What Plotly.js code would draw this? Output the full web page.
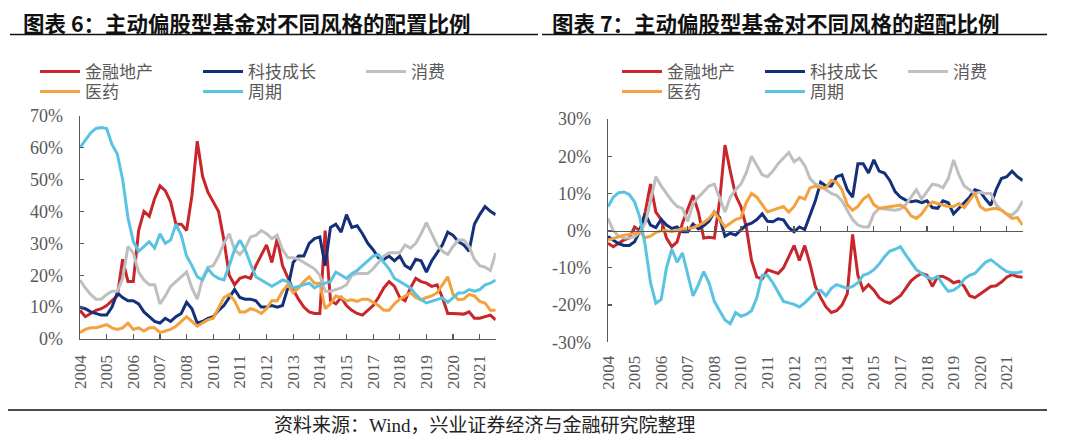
<!DOCTYPE html>
<html><head><meta charset="utf-8">
<script src="https://cdn.plot.ly/plotly-3.0.1.min.js"></script>
<style>html,body{margin:0;padding:0;background:#fff}#chart{width:1080px;height:442px}</style>
</head><body><div id="chart"></div>
<script>
// ---- data ----
const seriesNames = ['金融地产', '科技成长', '消费', '医药', '周期'];
const seriesColors = ['#C8262B', '#14307A', '#BFBFBF', '#F2A23E', '#5BC3E2'];
const tickIndex = [0, 5, 10, 15, 20, 25, 30, 35, 40, 45, 50, 55, 60, 65, 70, 75];
const tickLabels = ['2004','2005','2006','2007','2008','2010','2011','2012','2013','2014','2015','2017','2018','2019','2020','2021'];
const leftTickVals = [0, 10, 20, 30, 40, 50, 60, 70];
const leftTickText = ['0%','10%','20%','30%','40%','50%','60%','70%'];
const rightTickVals = [-30, -20, -10, 0, 10, 20, 30];
const rightTickText = ['-30%','-20%','-10%','0%','10%','20%','30%'];

// 配置比例 (%)
const allocFin = [9,7,8,9,9.5,10.5,12,13.5,25,18,18,34,40,38.5,44,48,46.5,43,36,36,34,45,62,51,46,43,40,31,20,17,19,19.6,19,23,26.5,29.5,24,31.5,23,19,15.5,12.5,10,8.5,8,8,34,12,11,13,10.5,9,8,7.5,9,10.5,13,16,18,16.5,13,12,16,19,18,17.5,16.5,17,13,8,8,8,7.8,8.5,6.5,6.5,7,7.5,6];
const allocTech = [10,9.5,8.5,8,7.5,7.5,10,14.5,13,12,12,11,8.5,7,5.5,5,6.5,5.5,7,8,11.5,9.5,5,5.5,6.5,7,9,10.5,13,15.5,13,12.5,12.5,12,10,10,10.5,10,10.5,16,24,26,26,30,31.5,32,23,35,36,33.5,39,35,35.5,33,30,28,25.5,25,26,24.5,26,23,22,25,24.5,21,24.5,27,29.5,33.5,32.5,30.5,29.5,27.5,36,39,41.5,40,39];
const allocCons = [18.5,16,14,12.5,12.5,14,15,15,19,29,27,21,18.5,17,17,11,13.5,16.5,18,19.5,21,16,12.5,19,22.5,23,26,30,33,28,26.5,28.5,32,32.5,34,33,31.5,32.5,28,25.5,25.5,25,24,23,22,20,15,15,15.5,16,17,20,20.5,20.5,20.5,22,24,26,27,27,27,29.5,28.5,30,33,36.5,33,29.5,27.5,26.5,29,31,31,29,25,23,22.5,21.5,27];
const allocPharma = [2,3,3.5,3.5,4,4.5,3.5,3,3.5,5,3,3.5,2.5,3.5,3.5,2,2.5,3,4,5.5,7,5.5,4,5,6,6.5,10,13,14,12,8.5,8.5,9.5,9,8,9.5,12,12,15,17,14.5,16,18,19.5,17.5,17.5,9.5,11,13.5,13,12,12.3,11.8,12.5,12.5,11.5,10.5,9,9,11,12.5,13.5,14.5,13,12.3,13,13.5,14.5,17,19.5,14,12.3,12.5,14,13.5,11.8,11.3,9,9];
const allocCyc = [60,62.5,64.6,66,66.3,66,61,58,50,38,30.6,27.5,29,30.5,28.5,33,30,31,36,32.5,26,23,19.5,18.5,22,20,19,18.5,23,28,31,28,23.5,19.5,18.5,17.5,16.5,17.5,18.5,18,16,16.5,17,17.5,16,17,17.5,18,21,20,19,20.5,21.5,23,24.5,26,26.5,24,22,19,18,17,16,14,12.3,11.3,11.8,12.3,12.9,11.5,13,14.4,14.5,15.5,15,15.5,17,17.5,18.5];

// 超配比例 (%)
const overFin = [-3.4,-4.3,-3.4,-2.5,-2,1,0,5,12.5,5,3,-2,-4.3,-3,2,6,9.5,5,-2,-1.8,-2,8,23,16,9.5,6.5,1,-8,-12.5,-13,-10.5,-11,-11.5,-10,-7,-4,-8,-4,-9,-15,-18,-20.5,-22,-21.5,-20,-17,-1,-12,-16,-14.5,-16,-18,-19,-19.5,-18.5,-17.5,-15.5,-13.5,-12.3,-11.5,-12,-15,-12.3,-12.3,-13,-14,-13.6,-15,-17.5,-18,-17,-16,-15,-14.8,-13.8,-12.5,-11.8,-12.3,-12.5];
const overTech = [-1.6,-2.5,-3.5,-4,-4,-3,0,4.5,1.5,0.8,3,1.5,0.6,1,-0.3,-0.3,1.8,0.5,1.3,2.5,5,3.5,-1.5,-0.7,-1.2,0.2,1.5,2,3,4.5,2.5,2.4,3.2,2.9,0.8,-0.3,1,0.3,4,8,13,12,12,14.5,15,11,9,18,18,15.5,19,16,15.5,13.5,10.5,9,8.2,7.8,8,7.5,8,6.2,6,8,7.5,4.5,6,7.5,9,11,10.5,8.5,6.8,11,14,14.5,16,14.5,13.5];
const overCons = [3.3,0,-1.5,-2,-2,-1.6,-0.3,2,8,14.5,12,10,8,6.5,6,2.5,7.3,9,10.5,12,12.5,9,5,9,11,12.5,15.5,20,17.5,15,14.5,16,18,19.5,21,18.5,19.5,17.5,14,12.5,12,11,10,9.5,8,5.5,3,1.5,1,1,4.5,6,5.8,5.5,5.5,5.8,7,9,11,8.5,10.5,12.5,12.2,11.5,14,19,15,12,11,10,10.3,10,10,7,5.5,4.5,4.2,5.5,8];
const overPharma = [-2.5,-2,-1.6,-1.2,-1,-0.8,-0.3,-1.9,-1.5,-0.5,0,0,-0.3,0.2,0.5,0.6,0.8,1.4,2.2,3.3,5,3,1,2,3,3.5,7.5,10,9,7,5,5.5,6,6.5,5,6.5,9,8.5,11.5,12,11.5,11.5,13.5,13,11,7,5.5,6.5,8.5,9.5,7,6,6.2,6.5,6.8,6.9,6,4,3.3,4.5,6.5,7.7,7.3,7,6.5,6.5,7.3,6.2,8,10,6.5,5.5,5.8,6,5.5,4.5,3.3,3.5,1.5];
const overCyc = [6.4,9,10.2,10.4,9.7,7.7,3.5,-4,-14,-19.5,-18.5,-10,-5,-8.5,-6,-12,-17.5,-14.5,-11,-14,-19,-21.5,-24,-25,-22,-23,-22.5,-21.5,-18,-12,-12,-14,-16.7,-19,-19.4,-19.8,-20.5,-19.4,-18,-16.5,-16,-17.5,-15.5,-14.5,-15,-15.5,-15,-14,-12,-11.5,-10.5,-9,-7,-5.5,-5,-4.3,-6.5,-8.5,-10.5,-11.5,-12.5,-13,-12.3,-14.5,-16.3,-16,-15,-13,-12,-11.5,-10,-8.5,-7.8,-9,-10,-11,-11.3,-11.3,-11];

const leftSeries = [allocFin, allocTech, allocCons, allocPharma, allocCyc];
const rightSeries = [overFin, overTech, overCons, overPharma, overCyc];
const legendRow = [0, 0, 0, 1, 1]; // first row: 金融地产/科技成长/消费, second row: 医药/周期

// ---- layout helpers (pixel -> paper) ----
const W = 1080, H = 442;
const px = v => v / W;
const py = v => 1 - v / H;

const axisGrey = '#595959';
const serif = 'Liberation Serif';
const numFont = {family: serif, size: 18, color: axisGrey};
const xNumFont = {family: serif, size: 17, color: axisGrey};
const cjk = 'Noto Sans CJK SC';

const periods = allocFin.map((_, i) => i);

const traces = [];
function addPanel(series, xa, ya, legendIds) {
  series.forEach((vals, k) => {
    traces.push({
      x: periods, y: vals, type: 'scatter', mode: 'lines',
      name: seriesNames[k], legend: legendIds[legendRow[k]],
      line: {color: seriesColors[k], width: 3},
      xaxis: xa, yaxis: ya, hoverinfo: 'skip'
    });
  });
}
addPanel(leftSeries, 'x', 'y', ['legend', 'legend3']);
addPanel(rightSeries, 'x2', 'y2', ['legend2', 'legend4']);
// carrier trace for the zero-line tick axis of the right panel
traces.push({x: [0, 78], y: [null, null], xaxis: 'x3', yaxis: 'y2', mode: 'lines', showlegend: false, hoverinfo: 'skip'});

const legendCommon = {
  orientation: 'h', traceorder: 'normal', xanchor: 'left', yanchor: 'top',
  font: {family: serif + ', ' + cjk, size: 17, color: axisGrey}, bgcolor: 'rgba(0,0,0,0)',
  itemwidth: 40, itemclick: false, itemdoubleclick: false
};

const layout = {
  width: W, height: H, margin: {l: 0, r: 0, t: 0, b: 0},
  paper_bgcolor: '#fff', plot_bgcolor: 'rgba(0,0,0,0)', showlegend: true,
  xaxis: {domain: [px(80), px(495.7)], range: [0, 78], anchor: 'y',
    tickmode: 'array', tickvals: tickIndex, ticktext: tickLabels, tickangle: -90,
    ticks: 'inside', ticklen: 5, tickcolor: axisGrey, tickwidth: 1.2,
    showline: true, linecolor: axisGrey, linewidth: 1.3, showgrid: false, zeroline: false,
    tickfont: xNumFont, ticklabelstandoff: 8, fixedrange: true},
  yaxis: {domain: [py(339), py(115.7)], range: [0, 70], anchor: 'x',
    tickmode: 'array', tickvals: leftTickVals, ticktext: leftTickText,
    ticks: 'inside', ticklen: 4, tickcolor: axisGrey, tickwidth: 1.2,
    showline: true, linecolor: axisGrey, linewidth: 1.3, showgrid: false, zeroline: false,
    tickfont: numFont, ticklabelstandoff: 12, fixedrange: true},
  xaxis2: {domain: [px(608), px(1022.7)], range: [0, 78], anchor: 'y2',
    tickmode: 'array', tickvals: tickIndex, ticktext: tickLabels, tickangle: -90,
    ticks: '', showline: false, showgrid: false, zeroline: false,
    tickfont: xNumFont, ticklabelstandoff: 9, fixedrange: true},
  xaxis3: {overlaying: 'x2', matches: 'x2', anchor: 'free', position: (py(342.3) + py(119)) / 2,
    range: [0, 78], tickmode: 'array', tickvals: tickIndex, showticklabels: false,
    ticks: 'inside', ticklen: 5, tickcolor: axisGrey, tickwidth: 1.2,
    showline: true, linecolor: axisGrey, linewidth: 1.3, showgrid: false, zeroline: false, fixedrange: true},
  yaxis2: {domain: [py(342.3), py(119)], range: [-30, 30], anchor: 'x2',
    tickmode: 'array', tickvals: rightTickVals, ticktext: rightTickText,
    ticks: 'inside', ticklen: 4, tickcolor: axisGrey, tickwidth: 1.2,
    showline: true, linecolor: axisGrey, linewidth: 1.3, showgrid: false, zeroline: false,
    tickfont: numFont, ticklabelstandoff: 12, fixedrange: true},
  legend: Object.assign({}, legendCommon, {x: px(35), y: py(54), entrywidth: 108}),
  legend3: Object.assign({}, legendCommon, {x: px(35), y: py(74), entrywidth: 108}),
  legend2: Object.assign({}, legendCommon, {x: px(617), y: py(54), entrywidth: 88}),
  legend4: Object.assign({}, legendCommon, {x: px(617), y: py(74), entrywidth: 88}),
  annotations: [
    {text: '图表 6：主动偏股型基金对不同风格的配置比例', xref: 'paper', yref: 'paper', x: px(21), y: py(22),
     xanchor: 'left', yanchor: 'middle', showarrow: false, font: {family: cjk, size: 21.5, color: '#111', weight: 'bold'}},
    {text: '图表 7：主动偏股型基金对不同风格的超配比例', xref: 'paper', yref: 'paper', x: px(550), y: py(22),
     xanchor: 'left', yanchor: 'middle', showarrow: false, font: {family: cjk, size: 21.5, color: '#111', weight: 'bold'}},
    {text: '资料来源：Wind，兴业证券经济与金融研究院整理', xref: 'paper', yref: 'paper', x: px(272), y: py(425),
     xanchor: 'left', yanchor: 'middle', showarrow: false, font: {family: serif + ', ' + cjk, size: 19, color: '#222'}}
  ],
  shapes: [
    {type: 'line', xref: 'paper', yref: 'paper', x0: px(10), x1: px(538), y0: py(34.5), y1: py(34.5), line: {color: '#111', width: 1.5}},
    {type: 'line', xref: 'paper', yref: 'paper', x0: px(542), x1: px(1047), y0: py(34.5), y1: py(34.5), line: {color: '#111', width: 1.5}},
    {type: 'line', xref: 'paper', yref: 'paper', x0: px(8), x1: px(1047), y0: py(410), y1: py(410), line: {color: '#111', width: 1.5}}
  ]
};

Plotly.newPlot('chart', traces, layout, {staticPlot: true, displayModeBar: false});
</script>
</body></html>
